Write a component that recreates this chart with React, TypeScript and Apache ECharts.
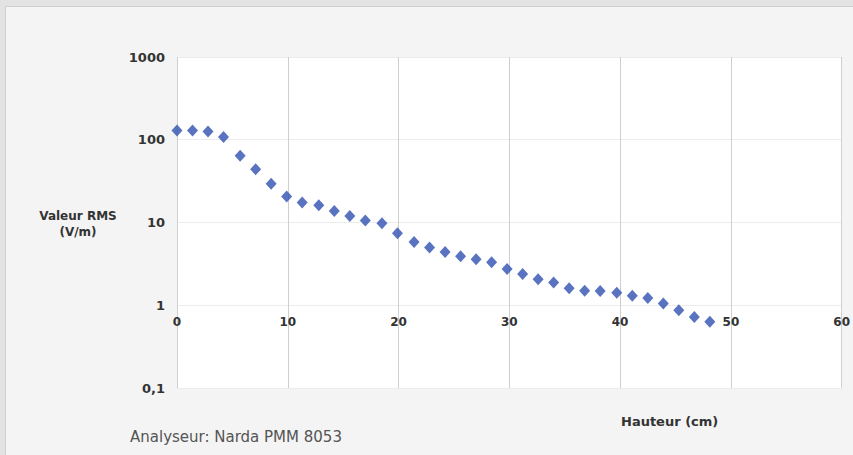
import React, { useEffect, useRef } from "react";
import * as echarts from "echarts";

const heights: number[] = [
  0, 1.4, 2.8, 4.2, 5.7, 7.1, 8.5, 9.9, 11.3, 12.8, 14.2, 15.6, 17.0, 18.5,
  19.9, 21.4, 22.8, 24.2, 25.6, 27.0, 28.4, 29.8, 31.2, 32.6, 34.0, 35.4,
  36.8, 38.2, 39.7, 41.1, 42.5, 43.9, 45.3, 46.7, 48.1,
];

const rmsValues: number[] = [
  129, 129, 126, 108, 64, 44, 29.4, 20.6, 17.5, 16.2, 13.8, 12.0, 10.6, 9.8,
  7.4, 5.8, 5.0, 4.4, 3.9, 3.6, 3.3, 2.74, 2.39, 2.06, 1.88, 1.61, 1.5, 1.49,
  1.42, 1.3, 1.22, 1.05, 0.87, 0.72, 0.63,
];

const xTicks = { min: 0, max: 60, interval: 10 };
const yRange = { min: 0.1, max: 1000 };

const yAxisTitle = "Valeur RMS\n(V/m)";
const xAxisTitle = "Hauteur (cm)";
const footnote = "Analyseur: Narda PMM 8053";

export default function App() {
  const ref = useRef<HTMLDivElement>(null);

  useEffect(() => {
    if (!ref.current) return;
    const chart = echarts.init(ref.current, undefined, { renderer: "svg" });
    const font = "DejaVu Sans";
    chart.setOption({
      animation: false,
      backgroundColor: "#e3e3e3",
      textStyle: { fontFamily: font },
      graphic: [
        {
          type: "rect",
          z: -10,
          shape: { x: 5.5, y: 6.5, width: 900, height: 500 },
          style: { fill: "#f4f4f4", stroke: "#cfcfcf", lineWidth: 1 },
        },
        {
          type: "text",
          x: 78,
          y: 208,
          style: {
            text: yAxisTitle,
            fontFamily: font,
            fontWeight: "bold",
            fontSize: 12,
            fill: "#333",
            align: "center",
            lineHeight: 16,
          },
        },
        {
          type: "text",
          x: 621,
          y: 415,
          style: {
            text: xAxisTitle,
            fontFamily: font,
            fontWeight: "bold",
            fontSize: 13,
            fill: "#333",
          },
        },
        {
          type: "text",
          x: 130,
          y: 429,
          style: {
            text: footnote,
            fontFamily: font,
            fontSize: 15,
            fill: "#555",
          },
        },
      ],
      grid: {
        left: 177,
        right: 6,
        top: 57,
        bottom: 67,
        show: true,
        backgroundColor: "#ffffff",
        borderWidth: 0,
      },
      xAxis: {
        type: "value",
        min: xTicks.min,
        max: xTicks.max,
        interval: xTicks.interval,
        offset: -83,
        axisLine: { show: false },
        axisTick: { show: false },
        axisLabel: {
          margin: 11,
          fontSize: 12,
          fontWeight: "bold",
          color: "#333",
          fontFamily: font,
          showMaxLabel: true,
        },
        splitLine: { show: true, lineStyle: { color: "#cfcfcf", width: 1 } },
      },
      yAxis: {
        type: "log",
        logBase: 10,
        min: yRange.min,
        max: yRange.max,
        axisLine: { show: false },
        axisTick: { show: false },
        axisLabel: {
          margin: 12,
          fontSize: 13,
          fontWeight: "bold",
          color: "#333",
          fontFamily: font,
          formatter: (v: number) =>
            String(Number(v.toPrecision(6))).replace(".", ","),
        },
        splitLine: { show: true, lineStyle: { color: "#ececec", width: 1 } },
      },
      series: [
        {
          type: "scatter",
          symbol: "diamond",
          symbolSize: [11, 12],
          itemStyle: { color: "#3050b2" },
          data: heights.map((h, i) => [h, rmsValues[i]]),
        },
      ],
    });
    return () => chart.dispose();
  }, []);

  return (
    <div
      ref={ref}
      style={{ position: "absolute", left: 0, top: 0, width: 853, height: 455 }}
    />
  );
}
